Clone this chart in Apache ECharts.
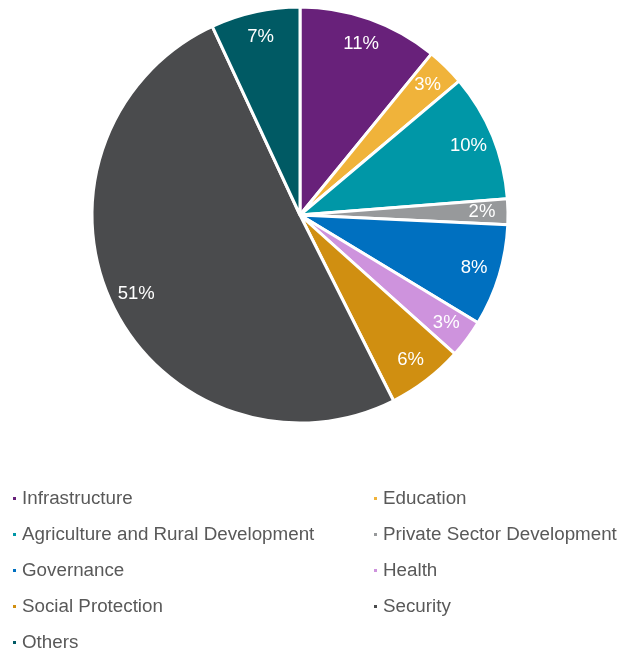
<!DOCTYPE html>
<html>
<head>
<meta charset="utf-8">
<script src="https://cdn.jsdelivr.net/npm/echarts@6/dist/echarts.min.js"></script>
<style>
  html, body { margin: 0; padding: 0; background: #ffffff; }
  #chart { width: 622px; height: 652px; }
</style>
</head>
<body>
<div id="chart"></div>
<script>
// Sector shares, in percent, clockwise from 12 o'clock
const categories = [
  'Infrastructure',
  'Education',
  'Agriculture and Rural Development',
  'Private Sector Development',
  'Governance',
  'Health',
  'Social Protection',
  'Security',
  'Others'
];
const shares = [11, 3, 10, 2, 8, 3, 6, 51, 7];
const colors = [
  '#68217a', '#f0b33a', '#0097a7', '#97999b', '#0070c0',
  '#ce93dd', '#d08f11', '#4a4b4d', '#005a64'
];
// legend columns (the last row holds a single entry)
const legendLeft = ['Infrastructure', 'Agriculture and Rural Development', 'Governance', 'Social Protection'];
const legendRight = ['Education', 'Private Sector Development', 'Health', 'Security'];
const legendLast = ['Others'];

const pieData = categories.map((name, i) => ({
  name: name,
  value: shares[i],
  itemStyle: { color: colors[i] }
}));

const center = [300, 215];
const outerR = 208;
const legendTop = 489;
const rowStep = 36;

const legendBase = {
  orient: 'vertical',
  top: legendTop,
  padding: 0,
  icon: 'rect',
  itemWidth: 5,
  itemHeight: 5,
  itemGap: 17,
  itemTextGap: 6,
  selectedMode: false,
  textStyle: {
    color: '#595959',
    fontFamily: 'Liberation Sans, Arial, sans-serif',
    fontSize: 18.8,
    lineHeight: 18
  }
};

const chart = echarts.init(document.getElementById('chart'), null, { renderer: 'canvas' });
chart.setOption({
  backgroundColor: '#ffffff',
  animation: false,
  color: colors,
  legend: [
    Object.assign({}, legendBase, { left: 11, data: legendLeft }),
    Object.assign({}, legendBase, { left: 372, data: legendRight }),
    Object.assign({}, legendBase, { left: 11, top: legendTop + rowStep * 4, data: legendLast })
  ],
  series: [
    {
      // the slices
      type: 'pie',
      center: center,
      radius: [0, outerR],
      startAngle: 90,
      clockwise: true,
      silent: true,
      itemStyle: { borderColor: '#ffffff', borderWidth: 3 },
      label: { show: false },
      labelLine: { show: false },
      data: pieData
    },
    {
      // transparent ring carrying the percentage labels near the rim
      type: 'pie',
      center: center,
      radius: [150, outerR],
      startAngle: 90,
      clockwise: true,
      silent: true,
      legendHoverLink: false,
      itemStyle: { color: 'rgba(0,0,0,0)', borderWidth: 0 },
      label: {
        show: true,
        position: 'inside',
        formatter: '{c}%',
        color: '#ffffff',
        fontFamily: 'Liberation Sans, Arial, sans-serif',
        fontSize: 18.5
      },
      labelLine: { show: false },
      data: categories.map((name, i) => ({ name: name + ' ', value: shares[i] }))
    }
  ]
});
</script>
</body>
</html>
